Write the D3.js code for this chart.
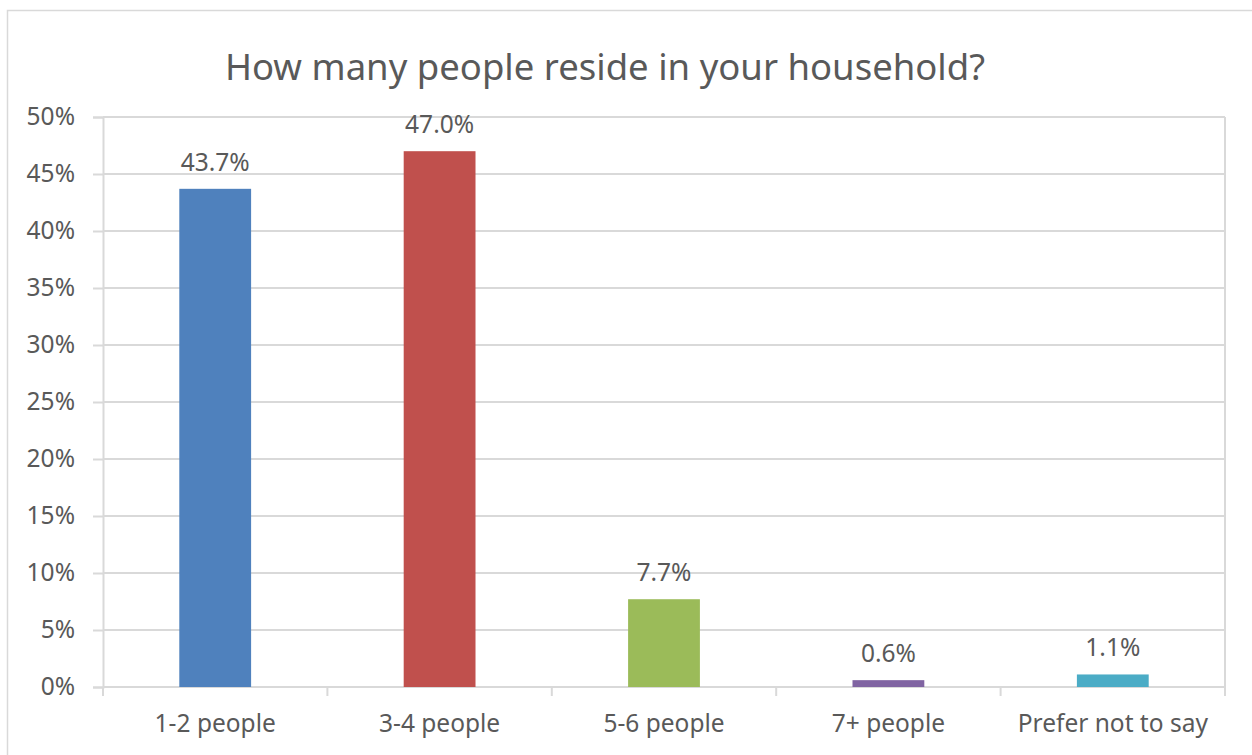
<!DOCTYPE html>
<html><head><meta charset="utf-8">
<script src="https://cdn.jsdelivr.net/npm/d3@7"></script>
<style>
html,body{margin:0;padding:0;background:#fff;}
svg{display:block;font-family:"Noto Sans",sans-serif;}
</style></head>
<body>
<svg id="chart" width="1252" height="755"></svg>
<script>
const categories = ["1-2 people","3-4 people","5-6 people","7+ people","Prefer not to say"];
const values = [43.7, 47.0, 7.7, 0.6, 1.1];
const colors = ["#4F81BD","#C0504D","#9BBB59","#8064A2","#4BACC6"];
const yTicks = [0,5,10,15,20,25,30,35,40,45,50];
const title = "How many people reside in your household?";

const svg = d3.select("#chart");
const m = {left:103, right:1225, top:117, bottom:687};
const textColor = "#595959", gridColor = "#D9D9D9";
const fs = 24.5;

// outer border
svg.append("rect").attr("x",7.5).attr("y",10.5).attr("width",1270).attr("height",800)
  .attr("fill","#fff").attr("stroke",gridColor).attr("stroke-width",1.5);

svg.append("text").attr("x",605).attr("y",80).attr("text-anchor","middle")
  .attr("fill",textColor).attr("font-size",36.5).text(title);

const x = d3.scaleBand().domain(categories).range([m.left,m.right]).paddingInner(0.68).paddingOuter(0.34);
const y = d3.scaleLinear().domain([0,50]).range([m.bottom,m.top]);

// gridlines + y axis
const yAxis = d3.axisLeft(y).tickValues(yTicks).tickFormat(d=>d+"%").tickSize(10).tickPadding(18);
const gy = svg.append("g").attr("transform",`translate(${m.left},0)`).call(yAxis);
gy.select(".domain").attr("stroke",gridColor).attr("stroke-width",2);
gy.selectAll(".tick line").attr("stroke",gridColor).attr("stroke-width",2);
gy.selectAll(".tick text").attr("fill",textColor).attr("font-size",fs).attr("font-family","Noto Sans");
svg.append("g").selectAll("line").data(yTicks).join("line")
  .attr("x1",m.left).attr("x2",m.right).attr("y1",d=>y(d)).attr("y2",d=>y(d))
  .attr("stroke",gridColor).attr("stroke-width",2);
svg.append("line").attr("x1",m.right).attr("x2",m.right).attr("y1",m.top).attr("y2",m.bottom)
  .attr("stroke",gridColor).attr("stroke-width",2);

// x axis ticks at category boundaries
const bounds = d3.range(categories.length+1).map(i=>m.left + i*(m.right-m.left)/categories.length);
svg.append("g").selectAll("line").data(bounds).join("line")
  .attr("x1",d=>d).attr("x2",d=>d).attr("y1",m.bottom).attr("y2",m.bottom+9)
  .attr("stroke",gridColor).attr("stroke-width",2);
svg.append("g").selectAll("text").data(categories).join("text")
  .attr("x",d=>x(d)+x.bandwidth()/2).attr("y",732).attr("text-anchor","middle")
  .attr("fill",textColor).attr("font-size",fs).text(d=>d);

// bars
const data = categories.map((c,i)=>({c,v:values[i],col:colors[i]}));
svg.append("g").selectAll("rect").data(data).join("rect")
  .attr("x",d=>x(d.c)).attr("width",x.bandwidth())
  .attr("y",d=>y(d.v)).attr("height",d=>y(0)-y(d.v)).attr("fill",d=>d.col);
svg.append("g").selectAll("text").data(data).join("text")
  .attr("x",d=>x(d.c)+x.bandwidth()/2).attr("y",d=>y(d.v)-18).attr("text-anchor","middle")
  .attr("fill",textColor).attr("font-size",fs).text(d=>d.v.toFixed(1)+"%");
</script>
</body></html>
